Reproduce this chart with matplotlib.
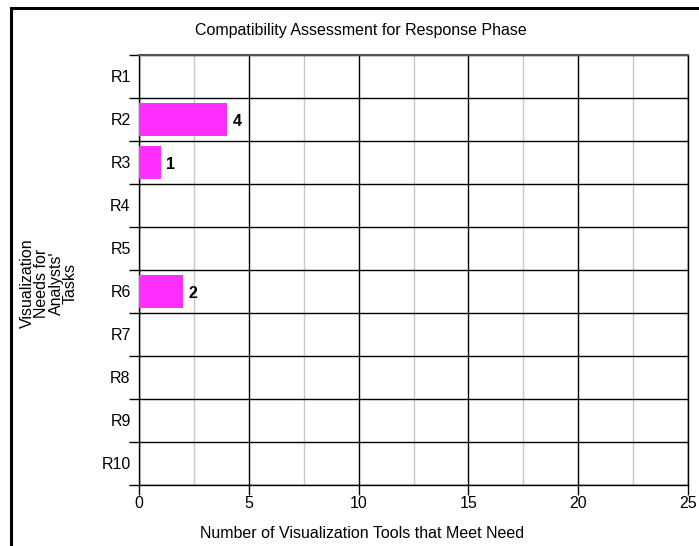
import numpy as np
import matplotlib
matplotlib.use('Agg')
import matplotlib.pyplot as plt
from matplotlib.patches import Rectangle
from matplotlib.ticker import MultipleLocator

plt.rcParams['font.family'] = ['Liberation Sans', 'DejaVu Sans']

# data
needs = ['R1', 'R2', 'R3', 'R4', 'R5', 'R6', 'R7', 'R8', 'R9', 'R10']
tool_counts = [0, 4, 1, 0, 0, 2, 0, 0, 0, 0]

fig = plt.figure(figsize=(6.99, 5.46), dpi=100)
ax = fig.add_axes([139/699, 1 - 485/546, (688 - 139)/699, (485 - 55)/546])

y = np.arange(len(needs))
bars = ax.barh(y, tool_counts, height=0.76, color='#ff30ff', edgecolor='none', zorder=3)
for yi, v in zip(y, tool_counts):
    if v > 0:
        ax.text(v + 0.25, yi + 0.05, str(v), va='center', ha='left',
                fontsize=11.5, fontweight='bold', zorder=4)

ax.set_xlim(0, 25)
ax.set_ylim(len(needs) - 0.5, -0.5)

# x axis: black major, gray minor grid
ax.xaxis.set_major_locator(MultipleLocator(5))
ax.xaxis.set_minor_locator(MultipleLocator(2.5))
ax.grid(axis='x', which='major', color='black', linewidth=1.0, zorder=1)
ax.grid(axis='x', which='minor', color='#c8c8c8', linewidth=1.0, zorder=1)
ax.tick_params(axis='x', which='major', direction='out', length=7, width=1,
               labelsize=11.5, pad=1)
ax.tick_params(axis='x', which='minor', length=0)

# y axis: labels at centers, ticks/lines at row boundaries
ax.set_yticks(y)
ax.set_yticklabels(needs)
ax.set_yticks(np.arange(-0.5, len(needs), 1), minor=True)
ax.tick_params(axis='y', which='major', length=0, labelsize=11.5, pad=6)
ax.tick_params(axis='y', which='minor', direction='out', length=7, width=1)
ax.grid(axis='y', which='minor', color='black', linewidth=1.0, zorder=1)

for s in ax.spines.values():
    s.set_color('black')
    s.set_linewidth(1.0)
ax.spines['top'].set_color('#555555')
ax.spines['top'].set_linewidth(1.5)

fig.text(361/699, 1 - 30/546, 'Compatibility Assessment for Response Phase',
         ha='center', va='center', fontsize=11.5)
fig.text(362/699, 1 - 533/546, 'Number of Visualization Tools that Meet Need',
         ha='center', va='center', fontsize=11.5)
fig.text(49/699, 1 - 283/546, "Visualization\nNeeds for\nAnalysts'\nTasks",
         ha='center', va='center', rotation=90, fontsize=11.5, linespacing=0.95)

# outer frame (left and top visible, rest cropped off)
fig.patches.append(Rectangle((11/699, -0.1), 1.2, 1 - 8/546 + 0.1,
                             transform=fig.transFigure, fill=False,
                             edgecolor='black', linewidth=2.2))

fig.savefig('out.png', dpi=100)
